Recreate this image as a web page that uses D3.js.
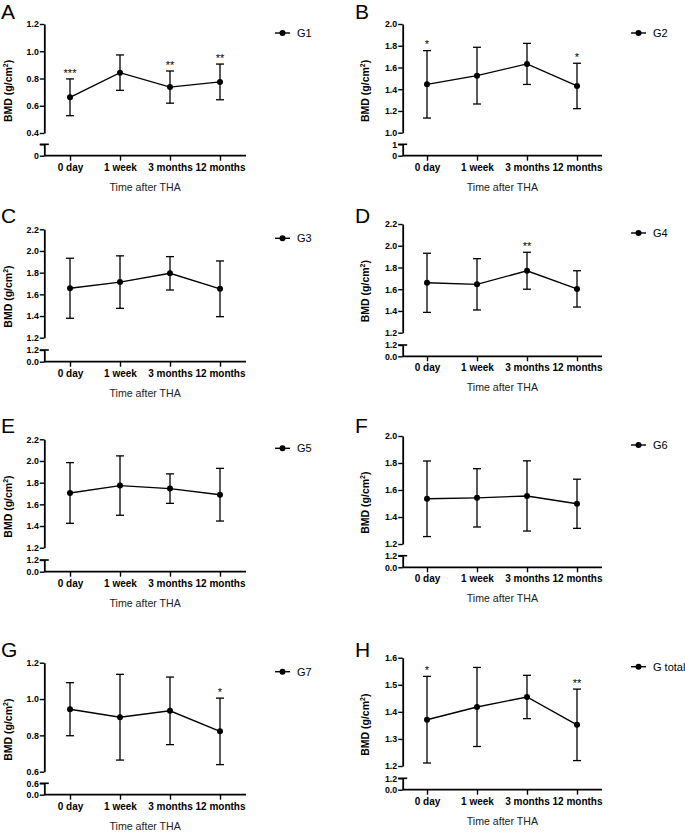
<!DOCTYPE html>
<html>
<head>
<meta charset="utf-8">
<script src="https://cdn.jsdelivr.net/npm/d3@7"></script>
<style>
  html, body { margin: 0; padding: 0; background: #fff; }
  svg { display: block; font-family: "Liberation Sans", Arial, Helvetica, sans-serif; }
</style>
</head>
<body>
<svg id="chart" width="685" height="832"></svg>
<script>
// ---------------- DATA ----------------
const categories = ["0 day", "1 week", "3 months", "12 months"];
const panelLetters = ["A", "B", "C", "D", "E", "F", "G", "H"];
const groupNames = ["G1", "G2", "G3", "G4", "G5", "G6", "G7", "G total"];

const meanG1 = [0.662, 0.843, 0.737, 0.775];
const sdG1   = [0.135, 0.130, 0.118, 0.131];
const sigG1  = ["***", "", "**", "**"];

const meanG2 = [1.445, 1.525, 1.633, 1.430];
const sdG2   = [0.310, 0.261, 0.189, 0.209];
const sigG2  = ["*", "", "", "*"];

const meanG3 = [1.656, 1.713, 1.794, 1.651];
const sdG3   = [0.277, 0.242, 0.154, 0.257];
const sigG3  = ["", "", "", ""];

const meanG4 = [1.659, 1.645, 1.770, 1.603];
const sdG4   = [0.272, 0.236, 0.170, 0.167];
const sigG4  = ["", "", "**", ""];

const meanG5 = [1.705, 1.773, 1.745, 1.689];
const sdG5   = [0.280, 0.274, 0.136, 0.243];
const sigG5  = ["", "", "", ""];

const meanG6 = [1.535, 1.542, 1.556, 1.498];
const sdG6   = [0.280, 0.216, 0.260, 0.182];
const sigG6  = ["", "", "", ""];

const meanG7 = [0.944, 0.900, 0.935, 0.822];
const sdG7   = [0.146, 0.236, 0.186, 0.183];
const sigG7  = ["", "", "", "*"];

const meanGT = [1.371, 1.418, 1.455, 1.352];
const sdGT   = [0.160, 0.146, 0.080, 0.132];
const sigGT  = ["*", "", "", "**"];

// y-axis tick values (upper segment) and break-segment labels
const yTicksG1 = [0.4, 0.6, 0.8, 1.0, 1.2];
const yTicksG2 = [1.0, 1.2, 1.4, 1.6, 1.8, 2.0];
const yTicksG3 = [1.2, 1.4, 1.6, 1.8, 2.0, 2.2];
const yTicksG4 = [1.2, 1.4, 1.6, 1.8, 2.0, 2.2];
const yTicksG5 = [1.2, 1.4, 1.6, 1.8, 2.0, 2.2];
const yTicksG6 = [1.2, 1.4, 1.6, 1.8, 2.0];
const yTicksG7 = [0.6, 0.8, 1.0, 1.2];
const yTicksGT = [1.2, 1.3, 1.4, 1.5, 1.6];
const breakLabels = [["", "0"], ["1", "0"], ["1.2", "0.0"], ["1.2", "0.0"],
                     ["1.2", "0.0"], ["1.2", "0.0"], ["0.6", "0.0"], ["1.2", "0.0"]];

const yLabel = "BMD (g/cm";
const xTitle = "Time after THA";

const means = [meanG1, meanG2, meanG3, meanG4, meanG5, meanG6, meanG7, meanGT];
const sds   = [sdG1, sdG2, sdG3, sdG4, sdG5, sdG6, sdG7, sdGT];
const sigs  = [sigG1, sigG2, sigG3, sigG4, sigG5, sigG6, sigG7, sigGT];
const ticks = [yTicksG1, yTicksG2, yTicksG3, yTicksG4, yTicksG5, yTicksG6, yTicksG7, yTicksGT];

// ---------------- LAYOUT ----------------
const cols = [
  { axisX: 44.3, x0: 70, x1: 220, axisEnd: 246, letterX: 1, labelOff: 36, legX: 275 },
  { axisX: 402.7, x0: 427, x1: 577, axisEnd: 602, letterX: 355, labelOff: 37.5, legX: 631 }
];
const geom = [
  { top: 24,    low: 133,   cap: 144.3, zero: 155.7 },
  { top: 24,    low: 132.7, cap: 144.3, zero: 155.7 },
  { top: 229.3, low: 337.7, cap: 350,   zero: 361.7 },
  { top: 224,   low: 332.7, cap: 345,   zero: 356.3 },
  { top: 439.3, low: 547.7, cap: 560,   zero: 571.7 },
  { top: 436,   low: 544,   cap: 555.7, zero: 567.3 },
  { top: 662.7, low: 771.7, cap: 783.3, zero: 794.7 },
  { top: 657.7, low: 766,   cap: 778.3, zero: 789.7 }
];
const letterBaselines = [18.5, 223, 432.5, 657];

const svg = d3.select("#chart");

for (let p = 0; p < 8; p++) {
  const c = cols[p % 2];
  const g = geom[p];
  const t = ticks[p];
  const lo = d3.min(t), hi = d3.max(t);
  const step = t[1] - t[0];
  const fmt = (step < 0.15) ? d3.format(".1f") : (p === 0 || p === 6 ? d3.format(".1f") : d3.format(".1f"));

  const x = d3.scalePoint().domain(categories).range([c.x0, c.x1]);
  const y = d3.scaleLinear().domain([lo, hi]).range([g.low, g.top]);
  const yLow = d3.scaleLinear().domain([0, 1]).range([g.zero, g.cap]);

  const panel = svg.append("g");

  // panel letter
  panel.append("text")
    .attr("x", c.letterX).attr("y", letterBaselines[Math.floor(p / 2)])
    .attr("font-size", 21).attr("fill", "#000")
    .text(panelLetters[p]);

  // upper y axis
  const ya = panel.append("g")
    .attr("transform", `translate(${c.axisX},0)`)
    .call(d3.axisLeft(y).tickValues(t).tickSize(4.5).tickSizeOuter(0).tickFormat(fmt));
  ya.select(".domain").attr("stroke", "#000").attr("stroke-width", 1.8);
  ya.selectAll(".tick line").attr("stroke", "#000").attr("stroke-width", 1.4);
  ya.selectAll(".tick text").attr("x", -5.5).attr("font-size", 8.8).attr("font-weight", "bold")
    .attr("font-family", "'Liberation Sans', Arial, sans-serif").attr("fill", "#000");

  // lower (broken) y axis segment
  const lowA = panel.append("g")
    .attr("transform", `translate(${c.axisX},0)`)
    .call(d3.axisLeft(yLow).tickValues([0, 1]).tickSize(4.5).tickSizeOuter(0)
      .tickFormat((d, i) => breakLabels[p][1 - i]));
  lowA.select(".domain").attr("stroke", "#000").attr("stroke-width", 1.8);
  lowA.selectAll(".tick line").attr("stroke", "#000").attr("stroke-width", 1.4);
  lowA.selectAll(".tick text").attr("x", -5.5).attr("font-size", 8.8).attr("font-weight", "bold")
    .attr("font-family", "'Liberation Sans', Arial, sans-serif").attr("fill", "#000");
  // break cap
  panel.append("line")
    .attr("x1", c.axisX - 4.5).attr("x2", c.axisX + 4.5)
    .attr("y1", yLow(1)).attr("y2", yLow(1))
    .attr("stroke", "#000").attr("stroke-width", 1.6);

  // x axis
  const xa = panel.append("g")
    .attr("transform", `translate(0,${g.zero})`)
    .call(d3.axisBottom(x).tickSize(5).tickSizeOuter(0));
  xa.select(".domain").remove();
  xa.selectAll(".tick line").attr("stroke", "#000").attr("stroke-width", 1.4);
  xa.selectAll(".tick text").attr("font-size", 10).attr("font-weight", "bold")
    .attr("font-family", "'Liberation Sans', Arial, sans-serif").attr("fill", "#000");
  panel.append("line")
    .attr("x1", c.axisX).attr("x2", c.axisEnd)
    .attr("y1", g.zero).attr("y2", g.zero)
    .attr("stroke", "#000").attr("stroke-width", 1.8);

  // x title
  panel.append("text")
    .attr("x", (c.axisX + c.axisEnd) / 2).attr("y", g.zero + 35)
    .attr("text-anchor", "middle").attr("font-size", 10.6).attr("fill", "#222")
    .text(xTitle);

  // y label
  const yl = panel.append("text")
    .attr("transform", `translate(${c.axisX - c.labelOff},${(g.top + g.zero) / 2 + 1}) rotate(-90)`)
    .attr("text-anchor", "middle").attr("dominant-baseline", "central")
    .attr("font-size", 10.5).attr("font-weight", "bold").attr("fill", "#000");
  yl.append("tspan").text(yLabel);
  yl.append("tspan").attr("dy", -3.5).attr("font-size", 7).text("2");
  yl.append("tspan").attr("dy", 3.5).text(")");

  const m = means[p], s = sds[p], sig = sigs[p];
  const pts = categories.map((cat, i) => ({ cat, m: m[i], s: s[i], sig: sig[i] }));

  // error bars
  const eb = panel.append("g").attr("stroke", "#000").attr("stroke-width", 1.3);
  pts.forEach(d => {
    const cx = x(d.cat);
    eb.append("line").attr("x1", cx).attr("x2", cx).attr("y1", y(d.m - d.s)).attr("y2", y(d.m + d.s));
    eb.append("line").attr("x1", cx - 4).attr("x2", cx + 4).attr("y1", y(d.m + d.s)).attr("y2", y(d.m + d.s));
    eb.append("line").attr("x1", cx - 4).attr("x2", cx + 4).attr("y1", y(d.m - d.s)).attr("y2", y(d.m - d.s));
  });

  // line
  panel.append("path")
    .datum(pts)
    .attr("fill", "none").attr("stroke", "#000").attr("stroke-width", 1.4)
    .attr("d", d3.line().x(d => x(d.cat)).y(d => y(d.m)));

  // points
  panel.selectAll("circle.pt").data(pts).enter().append("circle")
    .attr("class", "pt")
    .attr("cx", d => x(d.cat)).attr("cy", d => y(d.m)).attr("r", 3)
    .attr("fill", "#000");

  // significance stars
  panel.selectAll("text.sig").data(pts.filter(d => d.sig)).enter().append("text")
    .attr("class", "sig")
    .attr("x", d => x(d.cat)).attr("y", d => y(d.m + d.s) - 2.2)
    .attr("text-anchor", "middle").attr("font-size", 11).attr("fill", "#000")
    .text(d => d.sig);

  // legend
  const ly = g.top + 9;
  panel.append("line").attr("x1", c.legX).attr("x2", c.legX + 15).attr("y1", ly).attr("y2", ly)
    .attr("stroke", "#000").attr("stroke-width", 1.4);
  panel.append("circle").attr("cx", c.legX + 7.5).attr("cy", ly).attr("r", 3).attr("fill", "#000");
  panel.append("text").attr("x", c.legX + 22).attr("y", ly).attr("dominant-baseline", "central")
    .attr("font-size", 11).attr("fill", "#000").text(groupNames[p]);
}
</script>
</body>
</html>
